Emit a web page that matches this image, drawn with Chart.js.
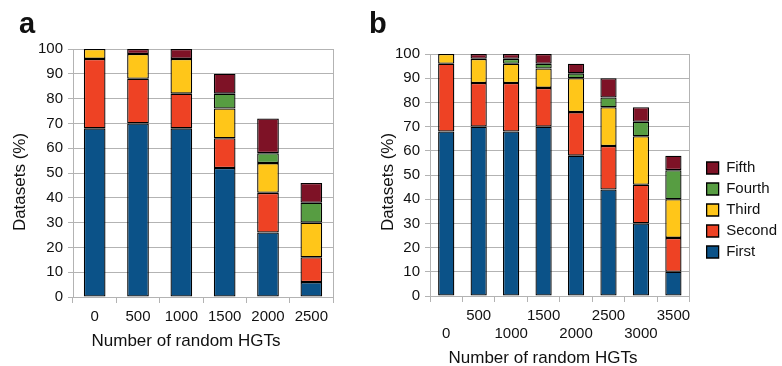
<!DOCTYPE html>
<html>
<head>
<meta charset="utf-8">
<script src="https://cdn.jsdelivr.net/npm/chart.js@4.4.0/dist/chart.umd.min.js"></script>
<style>
  html, body { margin: 0; padding: 0; background: #fff; }
  #wrap { position: relative; width: 782px; height: 366px; overflow: hidden; }
  canvas { position: absolute; top: 0; }
  #chartA { left: 0; }
  #chartB { left: 360px; }
</style>
</head>
<body>
<div id="wrap">
  <canvas id="chartA" width="360" height="366"></canvas>
  <canvas id="chartB" width="422" height="366"></canvas>
</div>
<script>
// series shared by both panels
const seriesNames = ['First', 'Second', 'Third', 'Fourth', 'Fifth'];
const seriesColors = ['#0b5288', '#ee4224', '#ffc619', '#579d42', '#7e1226'];

// panel a
const hgtA = ['0', '500', '1000', '1500', '2000', '2500'];
const firstA  = [68, 70, 68, 52, 26, 6];
const secondA = [28, 18, 14, 12, 16, 10];
const thirdA  = [4, 10, 14, 12, 12, 14];
const fourthA = [0, 0, 0, 6, 4, 8];
const fifthA  = [0, 2, 4, 8, 14, 8];

// panel b
const hgtB = ['0', '500', '1000', '1500', '2000', '2500', '3000', '3500'];
const firstB  = [68, 70, 68, 70, 58, 44, 30, 10];
const secondB = [28, 18, 20, 16, 18, 18, 16, 14];
const thirdB  = [4, 10, 8, 8, 14, 16, 20, 16];
const fourthB = [0, 0, 2, 2, 2, 4, 6, 12];
const fifthB  = [0, 2, 2, 4, 4, 8, 6, 6];

const yMin = 0, yMax = 100, yStep = 10;
const xLabel = 'Number of random HGTs';
const yLabel = 'Datasets (%)';

const gridColor = '#b3b3b3';
const textColor = '#111';
Chart.defaults.font.family = '"Liberation Sans", Arial, sans-serif';
Chart.defaults.color = textColor;

// panel letter + axis titles
const panelText = {
  id: 'panelText',
  afterDraw(chart, args, o) {
    const ctx = chart.ctx;
    ctx.save();
    ctx.fillStyle = textColor;
    ctx.font = 'bold 29px "Liberation Sans", Arial, sans-serif';
    ctx.textAlign = 'left';
    ctx.textBaseline = 'alphabetic';
    ctx.fillText(o.letter, o.letterPos[0], o.letterPos[1]);
    ctx.font = '17px "Liberation Sans", Arial, sans-serif';
    ctx.textAlign = 'center';
    ctx.textBaseline = 'middle';
    ctx.fillText(xLabel, o.xTitle[0], o.xTitle[1]);
    ctx.translate(o.yTitle[0], o.yTitle[1]);
    ctx.rotate(-Math.PI / 2);
    ctx.fillText(yLabel, 0, 0);
    ctx.restore();
  }
};

function makeChart(id, cats, series, cfg) {
  const datasets = series.map((d, i) => ({
    label: seriesNames[i],
    data: d,
    backgroundColor: seriesColors[i],
    borderColor: '#000',
    borderWidth: 1.3,
    borderSkipped: false,
    barPercentage: 0.5,
    categoryPercentage: 1
  }));

  return new Chart(document.getElementById(id), {
    type: 'bar',
    data: { labels: cats, datasets: datasets },
    plugins: [panelText],
    options: {
      responsive: false,
      animation: false,
      layout: { padding: { left: 0, top: cfg.top, right: cfg.right, bottom: 0 } },
      plugins: {
        tooltip: { enabled: false },
        legend: cfg.legend ? {
          display: true,
          position: 'right',
          reverse: true,
          maxWidth: 120,
          labels: {
            boxWidth: 12,
            boxHeight: 12,
            padding: 6,
            font: { size: 15 },
            color: textColor
          }
        } : { display: false },
        panelText: cfg.text
      },
      scales: {
        x: {
          stacked: true,
          grid: { display: true, drawOnChartArea: false, offset: true, tickLength: 6, color: gridColor },
          border: { color: gridColor },
          ticks: {
            font: { size: 15 },
            padding: 5,
            autoSkip: false,
            maxRotation: 0,
            minRotation: 0,
            callback: (v, i) => cfg.stagger ? (i % 2 ? [cats[i]] : ['', cats[i]]) : cats[i]
          },
          afterFit: s => { s.height = cfg.xHeight; }
        },
        y: {
          stacked: true,
          min: yMin,
          max: yMax,
          ticks: { stepSize: yStep, padding: 5, font: { size: 15 } },
          grid: { color: gridColor, tickLength: 5 },
          border: { color: gridColor },
          afterFit: s => { s.width = cfg.yWidth; }
        },
        yR: {
          type: 'linear',
          position: 'right',
          display: true,
          grid: { display: false },
          ticks: { display: false },
          border: { display: true, color: gridColor },
          afterFit: s => { s.width = cfg.gap; }
        }
      }
    }
  });
}

makeChart('chartA', hgtA, [firstA, secondA, thirdA, fourthA, fifthA], {
  top: 49, right: 27, xHeight: 69, yWidth: 73, gap: 0, legend: false, stagger: false,
  text: { letter: 'a', letterPos: [19, 33], xTitle: [186, 341], yTitle: [20, 182] }
});

makeChart('chartB', hgtB, [firstB, secondB, thirdB, fourthB, fifthB], {
  top: 54, right: -5, xHeight: 70, yWidth: 70, gap: 11, legend: true, stagger: true,
  text: { letter: 'b', letterPos: [9, 33], xTitle: [183, 358], yTitle: [28, 182] }
});
</script>
</body>
</html>
